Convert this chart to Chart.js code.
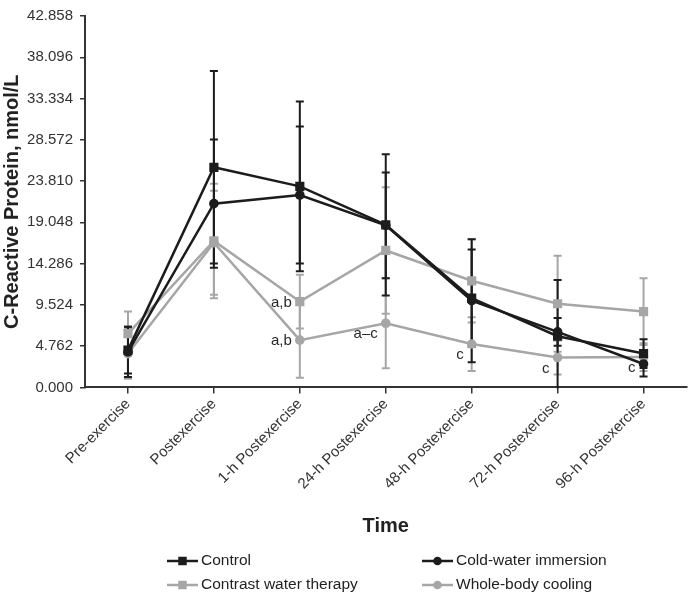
<!DOCTYPE html>
<html>
<head>
<meta charset="utf-8">
<script src="https://cdn.jsdelivr.net/npm/chart.js@4.4.1/dist/chart.umd.min.js"></script>
<style>
  body { margin: 0; background: #fff; }
  #wrap { width: 693px; height: 596px; position: relative; }
</style>
</head>
<body>
<div id="wrap"><canvas id="crpChart"></canvas></div>
<script>
// time points
const labels = ['Pre-exercise', 'Postexercise', '1-h Postexercise', '24-h Postexercise',
  '48-h Postexercise', '72-h Postexercise', '96-h Postexercise'];

// y axis ticks (nmol/L)
const yTicks = [0, 4.762, 9.524, 14.286, 19.048, 23.810, 28.572, 33.334, 38.096, 42.858];

// means
const control = [4.3, 25.4, 23.2, 18.75, 10.3, 5.9, 3.9];
const coldWater = [4.1, 21.2, 22.2, 18.7, 10.0, 6.4, 2.7];
const contrastWater = [6.2, 16.9, 9.9, 15.8, 12.3, 9.65, 8.75];
const wholeBody = [3.9, 16.7, 5.45, 7.4, 5.0, 3.45, 3.5];

// SDs
const controlSd = [2.7, 11.1, 9.8, 8.15, 5.6, 6.5, 1.65];
const coldWaterSd = [2.9, 7.4, 7.9, 6.1, 7.1, 1.6, 1.45];
const contrastWaterSd = [2.55, 6.6, 3.1, 7.3, 4.8, 5.55, 3.85];
const wholeBodySd = [2.9, 6.0, 4.35, 5.2, 3.1, 1.95, 1.6];

// significance letters
const contrastNotes = ['', '', 'a,b', '', '', '', ''];
const wholeBodyNotes = ['', '', 'a,b', 'a\u2013c', 'c', 'c', 'c'];

const BLACK = '#1c1c1c';
const GRAY = '#a6a6a6';
const FONT = 'Liberation Sans, Arial, sans-serif';

const errors = [controlSd, coldWaterSd, contrastWaterSd, wholeBodySd];
const notes = [null, null, contrastNotes, wholeBodyNotes];

const errorBars = {
  id: 'errorBars',
  beforeDatasetsDraw(chart) {
    const { ctx, chartArea, scales: { x, y } } = chart;
    ctx.save();
    ctx.beginPath();
    ctx.rect(chartArea.left, chartArea.top, chartArea.right - chartArea.left, chartArea.bottom - chartArea.top + 1);
    ctx.clip();
    for (let d = chart.data.datasets.length - 1; d >= 0; d--) {
      const ds = chart.data.datasets[d];
      ctx.strokeStyle = ds.borderColor;
      ctx.lineWidth = 2;
      ds.data.forEach((v, i) => {
        const px = x.getPixelForValue(i);
        const top = y.getPixelForValue(v + errors[d][i]);
        const bot = y.getPixelForValue(Math.max(v - errors[d][i], -1));
        ctx.beginPath();
        ctx.moveTo(px, top); ctx.lineTo(px, bot);
        ctx.moveTo(px - 4, top); ctx.lineTo(px + 4, top);
        ctx.moveTo(px - 4, bot); ctx.lineTo(px + 4, bot);
        ctx.stroke();
      });
    }
    ctx.restore();
  },
  afterDraw(chart) {
    const { ctx, scales: { x, y } } = chart;
    ctx.save();
    // letters next to points
    ctx.font = '15px ' + FONT;
    ctx.fillStyle = '#2a2a2a';
    ctx.textAlign = 'right';
    ctx.textBaseline = 'middle';
    notes.forEach((arr, d) => {
      if (!arr) return;
      arr.forEach((t, i) => {
        if (!t) return;
        const px = x.getPixelForValue(i);
        const py = y.getPixelForValue(chart.data.datasets[d].data[i]);
        ctx.fillText(t, px - 8, py + (i < 3 ? 1 : 11));
      });
    });

    // legend, 2 x 2
    const cols = [167, 422];
    const rows = [561, 585];
    ctx.font = '15.5px ' + FONT;
    ctx.textAlign = 'left';
    chart.data.datasets.forEach((ds, d) => {
      const lx = cols[d % 2];
      const ly = rows[Math.floor(d / 2)];
      ctx.strokeStyle = ds.borderColor;
      ctx.lineWidth = 2.5;
      ctx.beginPath();
      ctx.moveTo(lx, ly); ctx.lineTo(lx + 31, ly);
      ctx.stroke();
      ctx.fillStyle = ds.backgroundColor;
      Chart.helpers.drawPoint(ctx, {
        pointStyle: ds.pointStyle, radius: ds.pointRadius - 0.5, borderWidth: 0
      }, lx + 15.5, ly);
      ctx.fillStyle = '#222';
      ctx.fillText(ds.label, lx + 34, ly);
    });
    ctx.restore();
  }
};

const chart = new Chart(document.getElementById('crpChart'), {
  type: 'line',
  data: {
    labels: labels,
    datasets: [
      { label: 'Control', data: control, borderColor: BLACK, backgroundColor: BLACK,
        pointStyle: 'rect', pointRadius: 6.5 },
      { label: 'Cold-water immersion', data: coldWater, borderColor: BLACK, backgroundColor: BLACK,
        pointStyle: 'circle', pointRadius: 4.8 },
      { label: 'Contrast water therapy', data: contrastWater, borderColor: GRAY, backgroundColor: GRAY,
        pointStyle: 'rect', pointRadius: 6.5 },
      { label: 'Whole-body cooling', data: wholeBody, borderColor: GRAY, backgroundColor: GRAY,
        pointStyle: 'circle', pointRadius: 4.8 },
    ],
  },
  options: {
    responsive: true,
    maintainAspectRatio: false,
    animation: false,
    layout: { padding: { top: 10, right: 0, bottom: 58, left: 0 } },
    elements: {
      line: { borderWidth: 2.5, tension: 0 },
      point: { borderWidth: 0, hoverRadius: 5 },
    },
    plugins: {
      legend: { display: false },
      tooltip: { enabled: false },
    },
    scales: {
      x: {
        offset: true,
        grid: { offset: false, drawOnChartArea: false, tickLength: 6, color: '#333', lineWidth: 1.5 },
        border: { display: true, color: '#333', width: 2 },
        ticks: {
          maxRotation: 45, minRotation: 45, padding: 2,
          font: { family: FONT, size: 15 }, color: '#333',
        },
        title: {
          display: true, text: 'Time', color: '#222',
          font: { family: FONT, size: 20, weight: 'bold' },
          padding: { top: 19, bottom: 0 },
        },
      },
      y: {
        min: 0,
        max: 42.858,
        afterBuildTicks: (scale) => { scale.ticks = yTicks.map(v => ({ value: v })); },
        afterFit: (scale) => { scale.width = 85; },
        grid: { drawOnChartArea: false, tickLength: 5, color: '#333', lineWidth: 1.5 },
        border: { display: true, color: '#333', width: 2 },
        ticks: {
          padding: 7,
          font: { family: FONT, size: 15 }, color: '#333',
          callback: (v) => Number(v).toFixed(3),
        },
        title: {
          display: true, text: 'C-Reactive Protein, nmol/L', color: '#222',
          font: { family: FONT, size: 20, weight: 'bold' },
          padding: { top: 0, bottom: 0 },
        },
      },
    },
  },
  plugins: [errorBars],
});
</script>
</body>
</html>
